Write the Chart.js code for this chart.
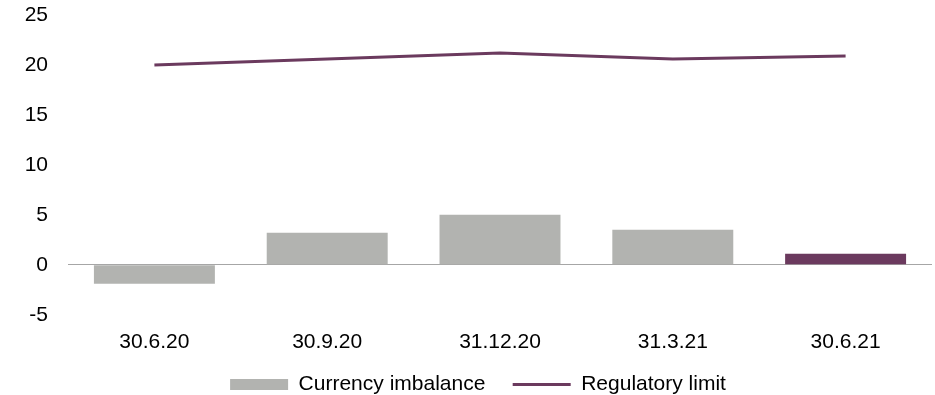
<!DOCTYPE html>
<html>
<head>
<meta charset="utf-8">
<script src="https://cdn.jsdelivr.net/npm/chart.js@4/dist/chart.umd.min.js"></script>
<style>
html,body{margin:0;padding:0;background:#fff;}
#wrap{width:935px;height:395px;}
</style>
</head>
<body>
<div id="wrap"><canvas id="c" width="935" height="395"></canvas></div>
<script>
const categories = ["30.6.20", "30.9.20", "31.12.20", "31.3.21", "30.6.21"];
const currencyImbalance = [-1.9, 3.2, 5.0, 3.5, 1.1];
const regulatoryLimit = [20.0, 20.6, 21.2, 20.6, 20.9];
const yTicks = [-5, 0, 5, 10, 15, 20, 25];
const legendNames = ["Currency imbalance", "Regulatory limit"];

const GRAY = '#b2b3b0';
const PURPLE = '#6b3a5e';
const barColors = categories.map((c, i) => i === categories.length - 1 ? PURPLE : GRAY);

Chart.defaults.font.family = '"Liberation Sans", Arial, sans-serif';
Chart.defaults.font.size = 21;
Chart.defaults.color = '#000';

new Chart(document.getElementById('c'), {
  type: 'bar',
  data: {
    labels: categories,
    datasets: [
      {
        type: 'line',
        label: legendNames[1],
        data: regulatoryLimit,
        borderColor: PURPLE,
        backgroundColor: PURPLE,
        borderWidth: 3,
        pointRadius: 0,
        tension: 0,
        order: 0
      },
      {
        type: 'bar',
        label: legendNames[0],
        data: currencyImbalance,
        backgroundColor: barColors,
        borderWidth: 0,
        categoryPercentage: 0.7,
        barPercentage: 1.0,
        order: 1
      }
    ]
  },
  options: {
    responsive: false,
    animation: false,
    layout: { padding: { left: 24, right: 3, top: 15, bottom: -10 } },
    plugins: {
      tooltip: { enabled: false },
      legend: {
        position: 'bottom',
        labels: {
          usePointStyle: true,
          pointStyleWidth: 58,
          boxHeight: 11,
          padding: 4,
          color: '#000',
          font: { size: 21 },
          generateLabels: function(chart) {
            return [
              { text: legendNames[0] + '    ', pointStyle: 'rect', fillStyle: GRAY, strokeStyle: GRAY, lineWidth: 0, datasetIndex: 1, hidden: false },
              { text: legendNames[1], pointStyle: 'line', fillStyle: PURPLE, strokeStyle: PURPLE, lineWidth: 3, datasetIndex: 0, hidden: false }
            ];
          }
        }
      }
    },
    scales: {
      x: {
        offset: true,
        grid: { display: false, drawTicks: false },
        border: { display: false },
        ticks: { padding: 15, font: { size: 21 }, color: '#000' }
      },
      y: {
        min: -5,
        max: 25,
        afterBuildTicks: function(axis) { axis.ticks = yTicks.map(v => ({ value: v })); },
        afterFit: function(axis) { axis.width = 44; axis.paddingTop = 0; axis.paddingBottom = 0; },
        border: { display: false },
        grid: {
          drawTicks: false,
          lineWidth: 1,
          color: ctx => (ctx.tick && ctx.tick.value === 0) ? '#a6a6a6' : 'rgba(0,0,0,0)'
        },
        ticks: { padding: 20, font: { size: 21 }, color: '#000' }
      }
    }
  }
});
</script>
</body>
</html>
